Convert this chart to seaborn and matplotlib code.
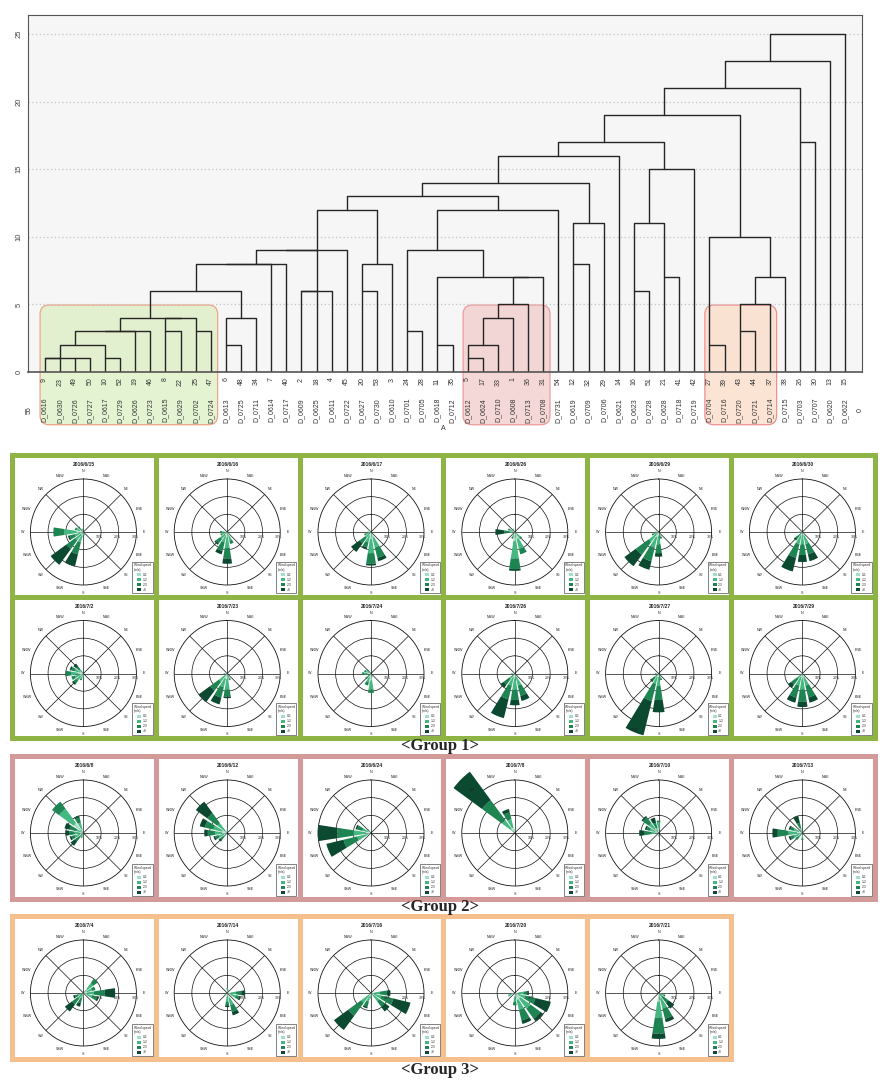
import numpy as np
import pandas as pd
import matplotlib
matplotlib.use("Agg")
import matplotlib.pyplot as plt
import matplotlib.colors as mcolors
from matplotlib.patches import FancyBboxPatch, Rectangle, Patch
import seaborn as sns

sns.set_style("white")
plt.rcParams["font.family"] = ["Liberation Sans", "DejaVu Sans"]

# ---- dendrogram data ----
leaf_ids = [9, 23, 49, 50, 10, 52, 19, 46, 8, 22, 25, 47, 6, 48, 34, 7, 40, 2, 18, 4,
            45, 20, 53, 3, 24, 28, 11, 35, 5, 17, 33, 1, 36, 31, 54, 12, 32, 29, 14, 16,
            51, 21, 41, 42, 27, 39, 43, 44, 37, 38, 26, 30, 13, 15]
leaf_names = ["D_0616", "D_0630", "D_0726", "D_0727", "D_0617", "D_0729", "D_0626", "D_0723",
              "D_0615", "D_0629", "D_0702", "D_0724", "D_0613", "D_0725", "D_0711", "D_0614",
              "D_0717", "D_0609", "D_0625", "D_0611", "D_0722", "D_0627", "D_0730", "D_0610",
              "D_0701", "D_0705", "D_0618", "D_0712", "D_0612", "D_0624", "D_0710", "D_0608",
              "D_0713", "D_0708", "D_0731", "D_0619", "D_0709", "D_0706", "D_0621", "D_0623",
              "D_0728", "D_0628", "D_0718", "D_0719", "D_0704", "D_0716", "D_0720", "D_0721",
              "D_0714", "D_0715", "D_0703", "D_0707", "D_0620", "D_0622"]

# (node, left child, right child, distance)
merges = [
    ("a1", 9, 23, 1), ("a2", 49, 50, 1), ("a", "a1", "a2", 1),
    ("b", 10, 52, 1), ("c", "a", "b", 2),
    ("d1", "c", 19, 3), ("d", "d1", 46, 3),
    ("e", 8, 22, 3), ("f", 25, 47, 3), ("ef", "e", "f", 4), ("g", "d", "ef", 4),
    ("k1", 6, 48, 2), ("k", "k1", 34, 4), ("m", "g", "k", 6),
    ("n1", "m", 7, 8), ("n", "n1", 40, 8),
    ("p1", 2, 18, 6), ("p2", "p1", 4, 6), ("p3", "n", "p2", 9), ("p", "p3", 45, 9),
    ("q1", 20, 53, 6), ("q", "q1", 3, 8), ("r", "p", "q", 12),
    ("s1a", 5, 17, 1), ("s1b", "s1a", 33, 2), ("s1", "s1b", 1, 4), ("s2", "s1", 36, 5),
    ("s3a", 11, 35, 2), ("s3b", "s2", 31, 7), ("s3", "s3a", "s3b", 7),
    ("s4a", 24, 28, 3), ("s4", "s4a", "s3", 9), ("s5", "s4", 54, 12),
    ("t", "r", "s5", 13),
    ("u1", 12, 32, 8), ("u2", "u1", 29, 11), ("u", "t", "u2", 14),
    ("v", "u", 14, 16),
    ("w1", 16, 51, 6), ("w2", 21, 41, 7), ("w3", "w1", "w2", 11), ("w", "w3", 42, 15),
    ("x1", "v", "w", 17),
    ("y0", 27, 39, 2), ("y1a", 43, 44, 3), ("y1b", "y1a", 37, 5), ("y1", "y1b", 38, 7),
    ("y2", "y0", "y1", 10), ("z", "x1", "y2", 19),
    ("zz", 26, 30, 17), ("z2", "z", "zz", 21), ("z3", "z2", 13, 23), ("root", "z3", 15, 25),
]

# highlighted groups (first and last leaf)
group_spans = [(9, 47), (5, 31), (27, 37)]
group_fill = ["#dcefc4", "#f1caca", "#fcdcc8"]
group_edge = ["#f0a487", "#ef9a9a", "#f08f8f"]

# ---- wind rose data (% frequency per speed class) ----
dirs = ["N", "NNE", "NE", "ENE", "E", "ESE", "SE", "SSE",
        "S", "SSW", "SW", "WSW", "W", "WNW", "NW", "NNW"]
speed_labels = ["0-1", "1-2", "2-3", ">3"]
speed_colors = ["#a3dfc2", "#45b781", "#1d8452", "#0b4a31"]

g1_dates = ["2016/6/15", "2016/6/16", "2016/6/17", "2016/6/26", "2016/6/29", "2016/6/30",
            "2016/7/2", "2016/7/23", "2016/7/24", "2016/7/26", "2016/7/27", "2016/7/29"]
g1_roses = [
    {"W": [4, 7, 6, 0], "WNW": [2, 2, 1, 0], "NW": [1, 2, 1, 0], "NNW": [1, 1, 0, 0], "WSW": [2, 3, 3, 1],
     "SW": [2, 4, 6, 11], "SSW": [2, 4, 7, 7], "S": [1, 1, 1, 0], "SSE": [1, 1, 0, 0]},
    {"S": [3, 6, 6, 3], "SSW": [2, 4, 5, 2], "SW": [2, 3, 3, 1], "WSW": [1, 2, 1, 0], "W": [1, 2, 1, 0],
     "SSE": [2, 3, 2, 0], "SE": [1, 1, 0, 0], "NNW": [1, 0, 0, 0]},
    {"S": [4, 8, 6, 1], "SSE": [3, 6, 6, 2], "SSW": [2, 4, 3, 1], "SW": [1, 3, 4, 6], "WSW": [1, 2, 1, 0],
     "W": [1, 1, 0, 0], "NW": [1, 1, 0, 0], "N": [1, 0, 0, 0]},
    {"S": [5, 10, 6, 1], "SSE": [4, 6, 3, 0], "SE": [2, 2, 1, 0], "W": [1, 2, 3, 5], "WNW": [1, 2, 1, 0],
     "NNW": [1, 1, 0, 0], "SSW": [1, 2, 1, 0]},
    {"SW": [2, 5, 9, 8], "SSW": [3, 6, 8, 5], "S": [2, 5, 5, 2], "SSE": [1, 2, 1, 0], "WSW": [1, 2, 1, 0],
     "W": [1, 1, 0, 0]},
    {"SSW": [2, 5, 8, 8], "S": [2, 5, 6, 4], "SSE": [2, 5, 6, 4], "SW": [1, 2, 2, 1], "W": [1, 1, 0, 0]},
    {"W": [3, 4, 3, 0], "WNW": [2, 3, 2, 1], "NW": [1, 2, 2, 2], "WSW": [2, 3, 2, 0], "SW": [2, 3, 2, 1],
     "SSW": [1, 2, 1, 0], "S": [1, 1, 0, 0], "E": [1, 0, 0, 0]},
    {"SW": [2, 4, 6, 8], "SSW": [3, 5, 6, 4], "S": [3, 6, 4, 1], "SSE": [1, 2, 1, 0], "W": [1, 1, 0, 0],
     "NNW": [1, 0, 0, 0]},
    {"S": [4, 5, 2, 0], "SSW": [2, 3, 2, 0], "SW": [1, 2, 1, 0], "W": [2, 2, 1, 0], "WNW": [1, 2, 1, 0],
     "NW": [1, 1, 1, 0], "SSE": [1, 1, 0, 0]},
    {"SSW": [2, 5, 8, 11], "S": [3, 6, 6, 3], "SSE": [2, 5, 6, 3], "SW": [1, 3, 4, 2], "W": [1, 1, 0, 0]},
    {"SSW": [2, 4, 10, 20], "S": [2, 5, 8, 7], "SSE": [1, 2, 1, 0], "W": [1, 1, 0, 0], "SW": [1, 2, 2, 1]},
    {"S": [3, 6, 7, 3], "SSE": [2, 5, 7, 3], "SSW": [2, 5, 7, 3], "SW": [1, 3, 4, 2], "NW": [1, 0, 0, 0]},
]

g2_dates = ["2016/6/8", "2016/6/12", "2016/6/24", "2016/7/8", "2016/7/10", "2016/7/13"]
g2_roses = [
    {"NW": [7, 10, 5, 0], "NNW": [2, 4, 3, 1], "WNW": [1, 3, 4, 3], "W": [2, 3, 3, 2], "WSW": [2, 3, 2, 1],
     "SW": [1, 2, 3, 3], "SSW": [1, 1, 1, 0]},
    {"NW": [2, 5, 7, 8], "WNW": [3, 5, 5, 3], "W": [3, 4, 4, 2], "WSW": [2, 3, 2, 1], "SW": [1, 2, 2, 1],
     "N": [1, 1, 0, 0]},
    {"W": [3, 7, 9, 11], "WSW": [2, 6, 8, 10], "WNW": [2, 3, 3, 1], "NW": [1, 1, 1, 0]},
    {"NW": [3, 6, 14, 20], "NNW": [3, 5, 4, 2], "N": [1, 1, 0, 0]},
    {"NW": [3, 4, 4, 1], "W": [1, 3, 4, 3], "WNW": [2, 3, 2, 1], "NNW": [1, 2, 3, 3], "N": [3, 3, 1, 0],
     "S": [1, 1, 0, 0]},
    {"W": [3, 5, 6, 3], "WNW": [2, 3, 2, 1], "NNW": [1, 2, 3, 4], "WSW": [2, 3, 2, 1], "SW": [1, 2, 2, 0],
     "S": [1, 2, 1, 0]},
]

g3_dates = ["2016/7/4", "2016/7/14", "2016/7/16", "2016/7/20", "2016/7/21"]
g3_roses = [
    {"E": [2, 4, 6, 6], "ESE": [2, 3, 3, 1], "ENE": [2, 3, 2, 0], "NE": [3, 4, 3, 0], "SW": [1, 3, 4, 5],
     "SSW": [1, 2, 3, 2], "WSW": [1, 2, 2, 1], "S": [1, 1, 0, 0]},
    {"E": [2, 3, 3, 2], "ESE": [2, 3, 2, 1], "SSE": [3, 4, 4, 2], "S": [2, 3, 2, 1], "N": [2, 1, 0, 0],
     "SW": [1, 1, 0, 0], "NNE": [1, 1, 0, 0]},
    {"SW": [2, 5, 9, 10], "ESE": [2, 4, 7, 10], "SE": [2, 4, 4, 3], "E": [2, 3, 4, 2], "SSW": [2, 3, 3, 1],
     "S": [1, 1, 1, 0]},
    {"ESE": [2, 4, 6, 9], "SE": [4, 7, 7, 2], "SSE": [4, 6, 6, 2], "S": [2, 3, 2, 0], "E": [2, 3, 2, 1],
     "WSW": [2, 2, 0, 0]},
    {"S": [5, 9, 9, 3], "SSE": [3, 6, 6, 2], "SE": [1, 2, 4, 4], "ESE": [1, 2, 1, 0]},
]

group_titles = ["<Group 1>", "<Group 2>", "<Group 3>"]
frame_colors = ["#8fb446", "#d49a9a", "#f5c08e"]

W, H = 888, 1088
fig = plt.figure(figsize=(W / 100, H / 100), dpi=100)


def frac(x, y, w, h):
    return [x / W, 1 - (y + h) / H, w / W, h / H]


# ---------------- dendrogram ----------------
ax = fig.add_axes(frac(28, 15, 834, 357))
pos = {lab: i for i, lab in enumerate(leaf_ids)}
hgt = {lab: 0 for lab in leaf_ids}
rows = []
for k, (name, left, right, h) in enumerate(merges):
    x1, x2 = pos[left], pos[right]
    for x, y in [(x1, hgt[left]), (x1, h), (x2, h), (x2, hgt[right])]:
        rows.append({"seg": k, "x": x, "y": y})
    pos[name] = (x1 + x2) // 2
    hgt[name] = h
seg = pd.DataFrame(rows)

ax.set_facecolor("#f6f6f6")
sns.lineplot(data=seg, x="x", y="y", units="seg", estimator=None, sort=False,
             color="#262626", lw=1.0, ax=ax, zorder=2)
ax.set_xlim(-1.1, 54.1)
ax.set_ylim(0, 26.4)
ax.set_xlabel("")
ax.set_ylabel("")
ax.set_yticks([0, 5, 10, 15, 20, 25])
ax.set_yticklabels(["0", "5", "10", "15", "20", "25"], rotation=90, va="center",
                   fontsize=5.5, color="#444")
ax.set_xticks(range(len(leaf_ids)))
ax.set_xticklabels([str(i) for i in leaf_ids], rotation=90, fontsize=5, color="#333")
ax.tick_params(axis="both", length=2.5, width=0.6, pad=1.5, color="#555")
ax.yaxis.grid(True, ls=(0, (1, 2)), color="#c4c4c4", lw=0.9)
ax.set_axisbelow("line")
for sp in ax.spines.values():
    sp.set_color("#555555")
    sp.set_linewidth(0.8)
ax.spines["bottom"].set_linewidth(1.2)

tr = matplotlib.transforms.blended_transform_factory(ax.transData, ax.transAxes)
for i, nm in enumerate(leaf_names):
    ax.text(i, -0.107, nm, rotation=90, ha="center", va="center", fontsize=5,
            color="#333", transform=tr, clip_on=False)
ax.text(-1, -0.107, "55", rotation=90, ha="center", va="center", fontsize=5, color="#333",
        transform=tr, clip_on=False)
ax.text(54, -0.107, "0", rotation=90, ha="center", va="center", fontsize=5, color="#333",
        transform=tr, clip_on=False)
ax.text(26.4, -0.158, "A", ha="center", va="center", fontsize=5, color="#333",
        transform=tr, clip_on=False)

for (lo, hi), fc, ec in zip(group_spans, group_fill, group_edge):
    x0 = leaf_ids.index(lo) - 0.3
    x1 = leaf_ids.index(hi) + 0.45
    box = FancyBboxPatch((x0, -3.9), x1 - x0, 8.85,
                         boxstyle="round,pad=0,rounding_size=0.6", mutation_aspect=1.12,
                         facecolor=mcolors.to_rgba(fc, 0.75), edgecolor=ec, lw=0.9,
                         zorder=1, clip_on=False)
    ax.add_patch(box)

# ---------------- wind roses ----------------
theta = np.deg2rad(np.arange(16) * 22.5)
bar_w = 2 * np.pi / 16 * 0.78


def draw_rose(px, py, pw, ph, date, rose):
    card = fig.add_axes(frac(px, py, pw, ph))
    card.set_facecolor("white")
    card.set_xticks([])
    card.set_yticks([])
    for sp in card.spines.values():
        sp.set_visible(False)
    card.text(0.5, 1 - 6.5 / ph, date, ha="center", va="center", fontsize=3.6,
              fontweight="bold", transform=card.transAxes)
    handles = [Patch(facecolor=c, edgecolor="none") for c in speed_colors]
    leg = card.legend(handles, speed_labels, loc="lower right", fontsize=2.3,
                      title="Wind speed\n(m/s)", title_fontsize=2.3, frameon=True,
                      fancybox=False, edgecolor="#222", handlelength=1.3, handleheight=0.9,
                      borderpad=0.5, labelspacing=0.3, handletextpad=0.5, borderaxespad=0.35)
    leg.get_frame().set_linewidth(0.5)

    cx = px + pw / 2 - 1
    cy = py + 74
    r = 53
    pa = fig.add_axes(frac(cx - r, cy - r, 2 * r, 2 * r), projection="polar")
    pa.set_theta_zero_location("N")
    pa.set_theta_direction(-1)
    pa.set_facecolor("none")
    bottom = np.zeros(16)
    vals = np.array([rose.get(d, [0, 0, 0, 0]) for d in dirs], dtype=float)
    for j in range(4):
        pa.bar(theta, vals[:, j], width=bar_w, bottom=bottom, color=speed_colors[j],
               edgecolor="none", clip_on=False, zorder=3)
        bottom += vals[:, j]
    pa.set_ylim(0, 30)
    pa.set_yticks([10, 20])
    pa.set_yticklabels([])
    pa.set_xticks(np.deg2rad(np.arange(0, 360, 45)))
    pa.set_xticklabels([])
    pa.grid(True, color="#111", lw=0.5)
    pa.spines["polar"].set_linewidth(0.6)
    pa.spines["polar"].set_color("#111")
    for t, d in zip(theta, dirs):
        pa.text(t, 34.5, d, ha="center", va="center", fontsize=2.6, clip_on=False)
    for rv in (10, 20, 30):
        pa.annotate(f"{rv}%", xy=(np.pi / 2, rv), xytext=(-1, -3.5), textcoords="offset points",
                    ha="center", va="center", fontsize=2.6, annotation_clip=False)


col_x = [15 + 143.8 * k for k in range(6)]
pw = 138.8

# group frames
frames = [(10, 453, 868, 288), (10, 754, 868, 148), (10, 914, 724, 148)]
for (fx, fy, fw, fh), col in zip(frames, frame_colors):
    fig.add_artist(Rectangle((fx / W, 1 - (fy + fh) / H), fw / W, fh / H,
                             transform=fig.transFigure, facecolor=col, edgecolor="none",
                             zorder=-1))

for i, (d, rz) in enumerate(zip(g1_dates, g1_roses)):
    row, col = divmod(i, 6)
    draw_rose(col_x[col], 458 + row * 141.5, pw, 136.5, d, rz)
for i, (d, rz) in enumerate(zip(g2_dates, g2_roses)):
    draw_rose(col_x[i], 759, pw, 138, d, rz)
for i, (d, rz) in enumerate(zip(g3_dates, g3_roses)):
    draw_rose(col_x[i], 919, pw, 138, d, rz)

for txt, y in zip(group_titles, [746, 907, 1070]):
    fig.text(440 / W, 1 - y / H, txt, ha="center", va="center", fontsize=12,
             fontweight="bold", family="Liberation Serif")

fig.savefig("out.png", dpi=100)
